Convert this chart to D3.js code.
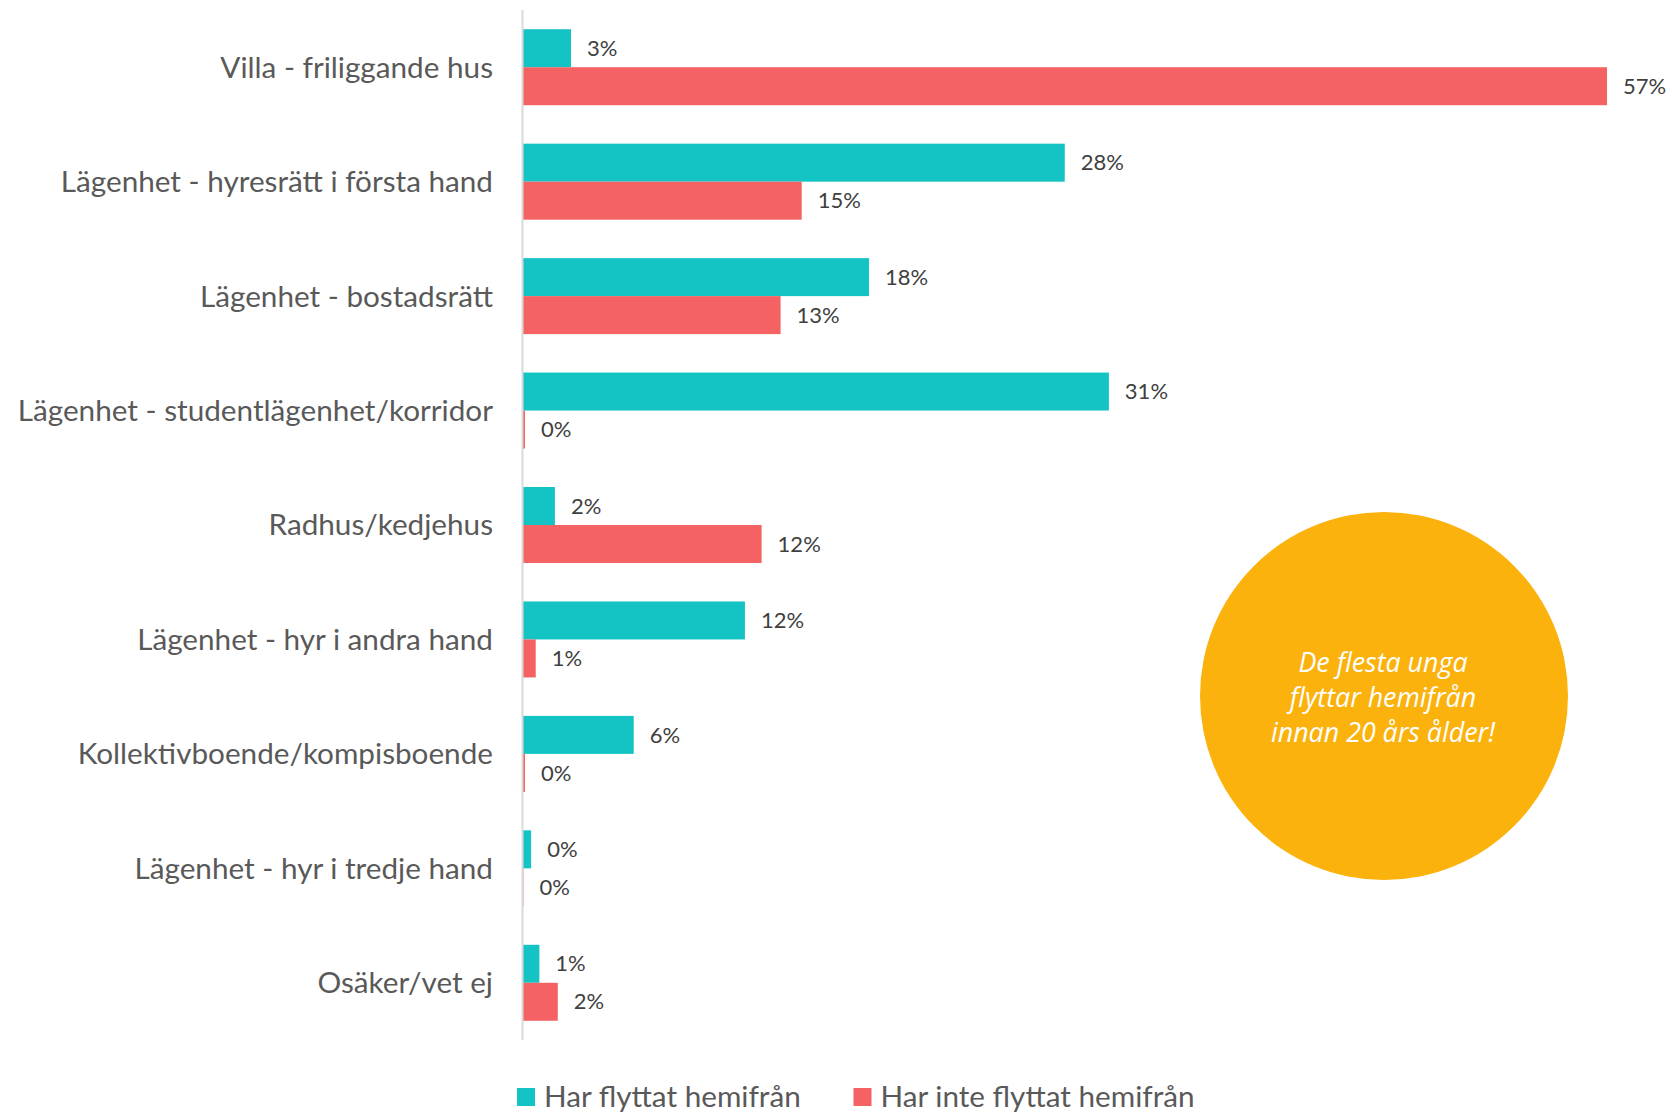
<!DOCTYPE html>
<html>
<head>
<meta charset="utf-8">
<script src="https://d3js.org/d3.v7.min.js"></script>
<style>
    body { margin: 0; background: #fff; }
    svg { display: block; }
    .cat { font-family: Lato, "Open Sans", sans-serif; font-size: 29.7px; fill: #595959; }
    .val { font-family: Lato, "Open Sans", sans-serif; font-size: 22px; fill: #404040; }
    .leg { font-family: Lato, "Open Sans", sans-serif; font-size: 29.7px; fill: #595959; }
    .note { font-family: "Open Sans", sans-serif; font-style: italic; font-size: 26.8px; fill: #fff; }
</style>
</head>
<body>
<script>
    // kategorier, uppifrån och ner
    var categories = [
        "Villa - friliggande hus",
        "Lägenhet - hyresrätt i första hand",
        "Lägenhet - bostadsrätt",
        "Lägenhet - studentlägenhet/korridor",
        "Radhus/kedjehus",
        "Lägenhet - hyr i andra hand",
        "Kollektivboende/kompisboende",
        "Lägenhet - hyr i tredje hand",
        "Osäker/vet ej"
    ];
    var seriesNames = ["Har flyttat hemifrån", "Har inte flyttat hemifrån"];
    var seriesColors = ["#14c3c4", "#f46264"];
    // andel i procent
    var flyttat = [2.53, 28.28, 18.07, 30.58, 1.69, 11.6, 5.8, 0.45, 0.88];
    var inteFlyttat = [56.56, 14.56, 13.46, 0.13, 12.47, 0.69, 0.13, 0.05, 1.84];
    var noteLines = ["De flesta unga", "flyttar hemifrån", "innan 20 års ålder!"];

    var W = 1672, H = 1112;
    var svg = d3.select("body").append("svg").attr("width", W).attr("height", H);

    var x = d3.scaleLinear().domain([0, 60]).range([522.5, 1673]);
    var y = d3.scaleBand().domain(categories).range([10, 1040])
        .paddingInner(0.336).paddingOuter(0.168);
    var ySub = d3.scaleBand().domain([0, 1]).range([0, y.bandwidth()]);

    var rows = categories.map(function (c, i) {
        return { cat: c, vals: [flyttat[i], inteFlyttat[i]] };
    });

    var group = svg.selectAll("g.row")
        .data(rows)
        .enter().append("g")
        .attr("class", "row")
        .attr("transform", function (d) { return "translate(0," + y(d.cat) + ")"; });

    var bars = group.selectAll("g.bar")
        .data(function (d) { return d.vals.map(function (v, s) { return { v: v, s: s }; }); })
        .enter().append("g");

    bars.append("rect")
        .attr("x", x(0))
        .attr("y", function (d) { return ySub(d.s); })
        .attr("width", function (d) { return x(d.v) - x(0); })
        .attr("height", ySub.bandwidth())
        .attr("fill", function (d) { return seriesColors[d.s]; });

    bars.append("text")
        .attr("class", "val")
        .attr("x", function (d) { return x(d.v) + 16; })
        .attr("y", function (d) { return ySub(d.s) + ySub.bandwidth() / 2; })
        .attr("dy", "0.35em")
        .text(function (d) { return Math.round(d.v) + "%"; });

    // kategorietiketter
    svg.selectAll("text.cat")
        .data(categories)
        .enter().append("text")
        .attr("class", "cat")
        .attr("x", 493)
        .attr("y", function (d) { return y(d) + y.bandwidth() / 2; })
        .attr("dy", "0.35em")
        .attr("text-anchor", "end")
        .text(function (d) { return d; });

    // axellinje
    svg.append("line")
        .attr("x1", x(0)).attr("x2", x(0))
        .attr("y1", 10).attr("y2", 1040)
        .attr("stroke", "#d9d9d9").attr("stroke-width", 2);

    // legend
    var legX = [517, 853.5];
    var leg = svg.selectAll("g.leg")
        .data(seriesNames)
        .enter().append("g")
        .attr("transform", function (d, i) { return "translate(" + legX[i] + ",1097)"; });
    leg.append("rect")
        .attr("x", 0).attr("y", -9).attr("width", 18).attr("height", 18)
        .attr("fill", function (d, i) { return seriesColors[i]; });
    leg.append("text")
        .attr("class", "leg")
        .attr("x", 27).attr("dy", "0.35em")
        .text(function (d) { return d; });

    // cirkel med kommentar
    svg.append("circle")
        .attr("cx", 1384).attr("cy", 696).attr("r", 184)
        .attr("fill", "#fbb20d");
    svg.selectAll("text.note")
        .data(noteLines)
        .enter().append("text")
        .attr("class", "note")
        .attr("x", 1383)
        .attr("y", function (d, i) { return 663 + i * 35; })
        .attr("dy", "0.35em")
        .attr("text-anchor", "middle")
        .text(function (d) { return d; });
</script>
</body>
</html>
